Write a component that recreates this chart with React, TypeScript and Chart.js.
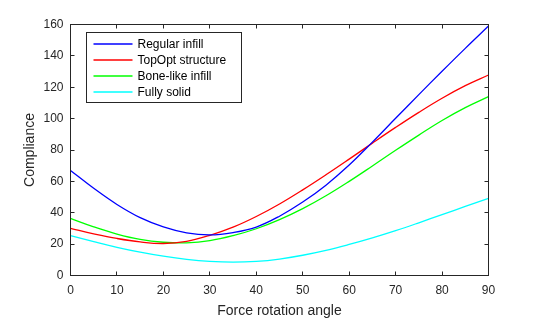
import { useEffect, useRef } from "react";
import { Chart, registerables } from "chart.js";

Chart.register(...registerables);

const angles = [0, 5, 10, 15, 20, 25, 30, 35, 40, 45, 50, 55, 60, 65, 70, 75, 80, 85, 90];
const regularInfill = [67, 55.6, 45.3, 36.9, 31.0, 27.2, 25.9, 27.4, 30.9, 37.8, 46.8, 57.6, 70.4, 85.0, 100.2, 115.3, 130.2, 144.8, 159];
const topOptStructure = [30.1, 26.6, 23.6, 21.4, 20.4, 21.8, 25.6, 30.8, 37.6, 45.6, 54.6, 64.2, 74.2, 84.4, 94.4, 104.0, 113.0, 121.0, 127.8];
const boneLikeInfill = [36.4, 31.0, 26.4, 23.0, 21.2, 20.8, 22.2, 25.4, 29.8, 35.6, 42.6, 50.8, 60.0, 69.8, 79.8, 89.5, 98.8, 107.0, 114.0];
const fullySolid = [25.4, 21.6, 18.0, 14.9, 12.3, 10.3, 9.0, 8.5, 9.0, 10.5, 12.9, 16.0, 19.8, 24.0, 28.6, 33.6, 38.8, 44.0, 49.2];
const seriesLabels = ["Regular infill", "TopOpt structure", "Bone-like infill", "Fully solid"];
const seriesColors = ["#0000FF", "#FF0000", "#00FF00", "#00FFFF"];
const xAxisTitle = "Force rotation angle";
const yAxisTitle = "Compliance";
const xMin = 0, xMax = 90, xStep = 10;
const yMin = 0, yMax = 160, yStep = 20;

const FONT = "'Liberation Sans', Arial, Helvetica, sans-serif";
const AXIS_COLOR = "#262626";

const boxPlugin = {
  id: "matlabBox",
  afterDatasetsDraw(chart: any) {
    const { ctx, chartArea: a, scales } = chart;
    const x = scales.x;
    const y = scales.y;
    ctx.save();
    ctx.strokeStyle = AXIS_COLOR;
    ctx.lineWidth = 1;
    ctx.strokeRect(a.left, a.top, a.right - a.left, a.bottom - a.top);
    ctx.beginPath();
    const tl = 4;
    x.ticks.forEach((t: any) => {
      const px = Math.floor(x.getPixelForValue(t.value)) + 0.5;
      ctx.moveTo(px, a.bottom);
      ctx.lineTo(px, a.bottom - tl);
      ctx.moveTo(px, a.top);
      ctx.lineTo(px, a.top + tl);
    });
    y.ticks.forEach((t: any) => {
      const py = Math.floor(y.getPixelForValue(t.value)) + 0.5;
      ctx.moveTo(a.left, py);
      ctx.lineTo(a.left + tl, py);
      ctx.moveTo(a.right, py);
      ctx.lineTo(a.right - tl, py);
    });
    ctx.stroke();

    // legend
    const bx = a.left + 16;
    const by = a.top + 8;
    const bw = 155;
    const bh = 70;
    ctx.fillStyle = "#FFFFFF";
    ctx.fillRect(bx, by, bw, bh);
    ctx.strokeStyle = AXIS_COLOR;
    ctx.strokeRect(bx, by, bw, bh);
    ctx.font = `12px ${FONT}`;
    ctx.textBaseline = "middle";
    ctx.textAlign = "left";
    chart.data.datasets.forEach((ds: any, i: number) => {
      const ly = by + 11.5 + i * 16;
      ctx.strokeStyle = ds.borderColor;
      ctx.lineWidth = 1.3;
      ctx.beginPath();
      ctx.moveTo(bx + 7, ly);
      ctx.lineTo(bx + 46, ly);
      ctx.stroke();
      ctx.fillStyle = "#000000";
      ctx.fillText(ds.label, bx + 51, ly + 0.5);
    });
    ctx.restore();
  },
};

export default function App() {
  const ref = useRef<HTMLCanvasElement | null>(null);
  useEffect(() => {
    if (!ref.current) return;
    const series = [regularInfill, topOptStructure, boneLikeInfill, fullySolid];
    const chart = new Chart(ref.current, {
      type: "line",
      data: {
        datasets: series.map((vals, i) => ({
          label: seriesLabels[i],
          data: angles.map((a, j) => ({ x: a, y: vals[j] })),
          borderColor: seriesColors[i],
          backgroundColor: seriesColors[i],
          borderWidth: 1.3,
          pointRadius: 0,
          tension: 0.4,
          fill: false,
        })),
      },
      options: {
        responsive: false,
        animation: false,
        devicePixelRatio: 1,
        layout: { padding: { left: 0, top: 24.5, right: 51.5, bottom: 0 } },
        plugins: { legend: { display: false }, tooltip: { enabled: false } },
        scales: {
          x: {
            type: "linear",
            min: xMin,
            max: xMax,
            grid: { display: false, drawTicks: false, tickLength: 0 },
            border: { display: false },
            ticks: { stepSize: xStep, padding: 8, color: AXIS_COLOR, font: { family: FONT, size: 12 }, maxRotation: 0 },
            title: { display: true, text: xAxisTitle, color: AXIS_COLOR, font: { family: FONT, size: 14 }, padding: { top: 0, bottom: 0 } },
            afterFit: (s: any) => { s.height = 44.5; },
          },
          y: {
            type: "linear",
            min: yMin,
            max: yMax,
            grid: { display: false, drawTicks: false, tickLength: 0 },
            border: { display: false },
            ticks: { stepSize: yStep, padding: 7, color: AXIS_COLOR, font: { family: FONT, size: 12 } },
            title: { display: true, text: yAxisTitle, color: AXIS_COLOR, font: { family: FONT, size: 14 }, padding: { top: 22, bottom: 0 } },
            afterFit: (s: any) => { s.width = 70.5; },
          },
        },
      },
      plugins: [boxPlugin],
    });
    return () => chart.destroy();
  }, []);
  return (
    <div style={{ position: "absolute", left: 0, top: 0, width: 540, height: 320, background: "#fff" }}>
      <canvas ref={ref} width={540} height={320} />
    </div>
  );
}
